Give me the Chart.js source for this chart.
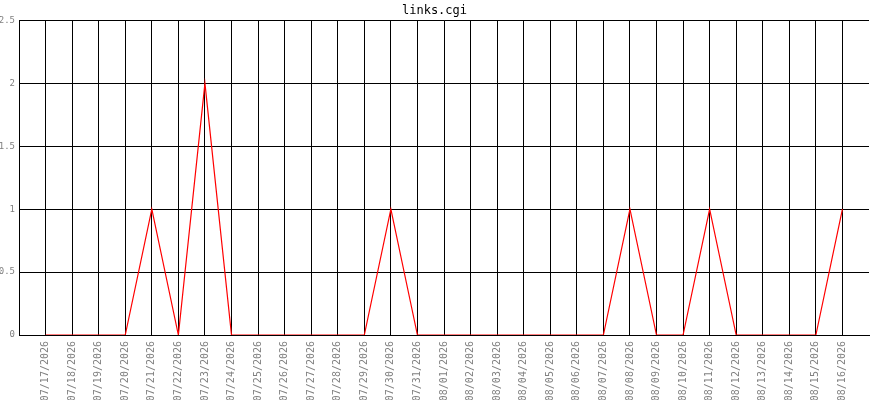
<!DOCTYPE html>
<html>
<head>
<meta charset="utf-8">
<script src="https://cdn.jsdelivr.net/npm/chart.js@4/dist/chart.umd.min.js"></script>
<style>
  html, body { margin: 0; padding: 0; background: #fff; }
  #wrap { width: 870px; height: 400px; }
</style>
</head>
<body>
<div id="wrap"><canvas id="chart"></canvas></div>
<script>
/* ── data ── */
const dates = [
  '07/17/2026', '07/18/2026', '07/19/2026', '07/20/2026', '07/21/2026', '07/22/2026',
  '07/23/2026', '07/24/2026', '07/25/2026', '07/26/2026', '07/27/2026', '07/28/2026',
  '07/29/2026', '07/30/2026', '07/31/2026', '08/01/2026', '08/02/2026', '08/03/2026',
  '08/04/2026', '08/05/2026', '08/06/2026', '08/07/2026', '08/08/2026', '08/09/2026',
  '08/10/2026', '08/11/2026', '08/12/2026', '08/13/2026', '08/14/2026', '08/15/2026',
  '08/16/2026',
];
const hits = [
  0, 0, 0, 0, 1, 0,
  2, 0, 0, 0, 0, 0,
  0, 1, 0, 0, 0, 0,
  0, 0, 0, 0, 1, 0,
  0, 1, 0, 0, 0, 0,
  1,
];
const yTicks = [0, 0.5, 1, 1.5, 2, 2.5];

/* ── defaults ── */
const MONO = "'DejaVu Sans Mono', monospace";
Chart.defaults.font.family = MONO;
Chart.defaults.animation = false;

new Chart(document.getElementById('chart'), {
  type: 'line',
  data: {
    datasets: [{
      data: hits.map((v, i) => ({ x: i, y: v })),
      borderColor: '#ff0000',
      borderWidth: 1.2,
      pointRadius: 0,
      tension: 0,
      fill: false,
    }],
  },
  options: {
    responsive: true,
    maintainAspectRatio: false,
    layout: { padding: { right: 1 } },
    plugins: {
      legend: { display: false },
      tooltip: { enabled: false },
      title: {
        display: true,
        text: 'links.cgi',
        color: '#000',
        font: { family: MONO, size: 12, weight: 'normal' },
        padding: { top: 4, bottom: 2 },
      },
    },
    scales: {
      x: {
        type: 'linear',
        min: -1, max: dates.length,
        grid: { color: '#000', lineWidth: 1, drawTicks: false },
        border: { color: '#000' },
        afterBuildTicks: s => { s.ticks = dates.map((_, i) => ({ value: i })); },
        ticks: {
          autoSkip: false, maxRotation: 90, minRotation: 90,
          padding: 6, color: '#808080',
          font: { family: MONO, size: 10 },
          callback: v => dates[v] ?? '',
        },
        afterFit: s => { s.height = 65; },
      },
      y: {
        min: 0, max: 2.5,
        grid: { color: '#000', lineWidth: 1, drawTicks: false },
        border: { color: '#000' },
        afterBuildTicks: s => { s.ticks = yTicks.map(v => ({ value: v })); },
        ticks: {
          padding: 4, color: '#808080',
          font: { family: MONO, size: 9 },
          callback: v => String(v),
        },
        afterFit: s => { s.width = 19; },
      },
    },
  },
});
</script>
</body>
</html>
